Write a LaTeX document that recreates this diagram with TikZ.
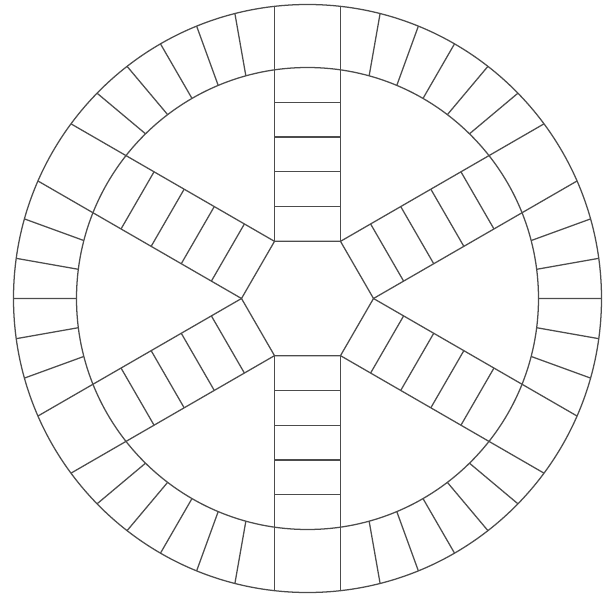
\documentclass[tikz,border=0pt]{standalone}
\usepackage{tikz}

\begin{document}
\begin{tikzpicture}[
  x=0.025cm, y=0.025cm,
  boardline/.style={draw=black!70, line width=0.9pt},
]
\useasboundingbox (-307.5,-300.5) rectangle (303.5,298.5);

% --- Board sizes (in pixels of the board) ---
\def\Rout{294}
\def\Rin{231}
\def\hexR{66}
\def\halfW{33}

% --- Outer and inner rings ---
\draw[boardline] (0,0) circle (\Rout);
\draw[boardline] (0,0) circle (\Rin);

% --- Central hexagon ---
\draw[boardline] (0:\hexR) -- (60:\hexR) -- (120:\hexR) -- (180:\hexR)
  -- (240:\hexR) -- (300:\hexR) -- cycle;

% --- Spokes with their steps, and ring cells up to the next spoke ---
\foreach \a in {30,90,...,330} {
  \begin{scope}[rotate=\a]
    \draw[boardline] (57.16,-\halfW) -- (292.14,-\halfW);
    \draw[boardline] (57.16,\halfW) -- (292.14,\halfW);
    \foreach \k in {1,...,4}
      \draw[boardline] ({57.16+\k*34.77},-\halfW) -- ({57.16+\k*34.77},\halfW);
    \foreach \k in {1,...,5}
      \draw[boardline] ({8.213+\k*7.262}:\Rin) -- ({6.445+\k*7.852}:\Rout);
  \end{scope}
}

\end{tikzpicture}
\end{document}
